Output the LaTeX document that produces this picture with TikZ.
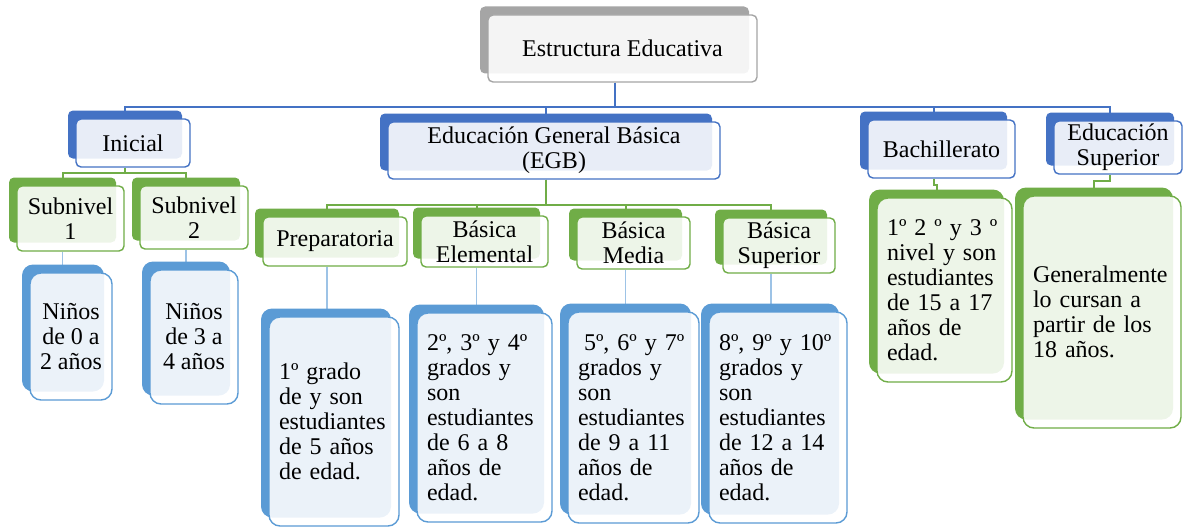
\documentclass[tikz,border=0pt]{standalone}
\usepackage{fontspec}
\setmainfont{Liberation Serif}
\usetikzlibrary{shadows,backgrounds,calc}
\definecolor{cBlue}{HTML}{4472C4}
\definecolor{cGreen}{HTML}{70AD47}
\definecolor{cLBlue}{HTML}{5B9BD5}
\definecolor{cGray}{HTML}{A5A5A5}
\definecolor{cConn}{HTML}{9DC3E6}
\tikzset{
  box/.style={draw=#1, line width=1.4pt, fill=white, fill opacity=0.88, text opacity=1,
    rounded corners=5pt, inner sep=0pt,
    general shadow={fill=#1, fill opacity=1, draw=none, shadow xshift=-8pt, shadow yshift=8.5pt},
    font=\fontsize{24}{25}\selectfont, align=center},
  cbox/.style={box=#1, rounded corners=11pt, align=left, inner xsep=10pt},
  nbox/.style={box=#1, rounded corners=11pt, align=center},
  bconn/.style={draw=cBlue, line width=2pt},
  gconn/.style={draw=cGreen, line width=2pt},
  lconn/.style={draw=cConn, line width=1.6pt}
}
\begin{document}
\begin{tikzpicture}[x=1pt,y=-1pt]
\useasboundingbox (0,0) rectangle (1183,527);
% level 1
\node[box=cGray, minimum width=269pt, minimum height=67pt] (top) at (622.5,48.5) {Estructura Educativa};
% level 2
\node[box=cBlue, minimum width=114pt, minimum height=48pt] (ini) at (133,143) {Inicial};
\node[box=cBlue, minimum width=332pt, minimum height=57pt] (egb) at (554,150.5) {Educación General Básica\\(EGB)};
\node[box=cBlue, minimum width=147pt, minimum height=58pt] (bach) at (941.5,149) {Bachillerato};
\node[box=cBlue, minimum width=128pt, minimum height=53pt] (esup) at (1118,147.5) {Educación\\Superior};
% level 3
\node[box=cGreen, minimum width=107pt, minimum height=65pt] (sub1) at (70.5,218.5) {Subnivel\\1};
\node[box=cGreen, minimum width=108pt, minimum height=63pt] (sub2) at (194,217.5) {Subnivel\\2};
\node[box=cGreen, minimum width=144pt, minimum height=49pt] (prep) at (335,241.5) {Preparatoria};
\node[box=cGreen, minimum width=127pt, minimum height=51pt] (bel) at (484.5,241.5) {Básica\\Elemental};
\node[box=cGreen, minimum width=113pt, minimum height=52pt] (bme) at (633.5,243) {Básica\\Media};
\node[box=cGreen, minimum width=112pt, minimum height=55pt] (bsu) at (779,245.5) {Básica\\Superior};
% level 4
\node[nbox=cLBlue, minimum width=82pt, minimum height=127pt] (n1) at (71,336.5) {Niños\\de 0 a\\2 años};
\node[nbox=cLBlue, minimum width=88pt, minimum height=134pt] (n2) at (194,337) {Niños\\de 3 a\\4 años};
\node[cbox=cLBlue, text width=110pt, minimum height=209pt] (prepc) at (334,421.5) {1º grado\\de y son\\estudiantes\\de 5 años\\de edad.};
\node[cbox=cLBlue, text width=115pt, minimum height=209pt] (belc) at (484.5,417.5) {2º, 3º y 4º\\grados y\\son\\estudiantes\\de 6 a 8\\años de\\edad.};
\node[cbox=cLBlue, text width=111pt, minimum height=211pt] (bmec) at (633.5,417.5) {\hspace*{6pt}5º, 6º y 7º\\grados y\\son\\estudiantes\\de 9 a 11\\años de\\edad.};
\node[cbox=cLBlue, text width=118pt, minimum height=211pt] (bsuc) at (778,417.5) {8º, 9º y 10º\\grados y\\son\\estudiantes\\de 12 a 14\\años de\\edad.};
\node[cbox=cGreen, text width=115pt, minimum height=184pt] (bachc) at (944.5,290) {1º 2 º y 3 º\\nivel y son\\estudiantes\\de 15 a 17\\años de\\edad.};
\node[cbox=cGreen, text width=138pt, minimum height=232pt] (esupc) at (1102,312) {Generalmente\\lo cursan a\\partir de los\\18 años.};
% connectors
\begin{scope}[on background layer]
\foreach \c in {ini,egb,bach,esup}
  \draw[bconn] ([xshift=-8pt]top.south) -- ++(0,24) -| ([xshift=-8pt]\c.north);
\foreach \c in {sub1,sub2}
  \draw[gconn] ([xshift=-8pt]ini.south) -- ++(0,5) -| ([xshift=-8pt]\c.north);
\foreach \c in {prep,bel,bme,bsu}
  \draw[gconn] ([xshift=-8pt]egb.south) -- ++(0,25) -| ([xshift=-8pt]\c.north);
\draw[gconn] ([xshift=-8pt]bach.south) -- ++(0,6) -| ([xshift=-8pt]bachc.north);
\draw[gconn] ([xshift=-8pt]esup.south) -- ++(0,6) -| ([xshift=-8pt]esupc.north);
\draw[lconn] ([xshift=-8pt]sub1.south) -- ([xshift=-8pt]sub1.south |- n1.north);
\draw[lconn] ([xshift=-8pt]sub2.south) -- ([xshift=-8pt]sub2.south |- n2.north);
\draw[lconn] ([xshift=-8pt]prep.south) -- ([xshift=-8pt]prep.south |- prepc.north);
\draw[lconn] ([xshift=-8pt]bel.south) -- ([xshift=-8pt]bel.south |- belc.north);
\draw[lconn] ([xshift=-8pt]bme.south) -- ([xshift=-8pt]bme.south |- bmec.north);
\draw[lconn] ([xshift=-8pt]bsu.south) -- ([xshift=-8pt]bsu.south |- bsuc.north);
\end{scope}
\end{tikzpicture}
\end{document}
